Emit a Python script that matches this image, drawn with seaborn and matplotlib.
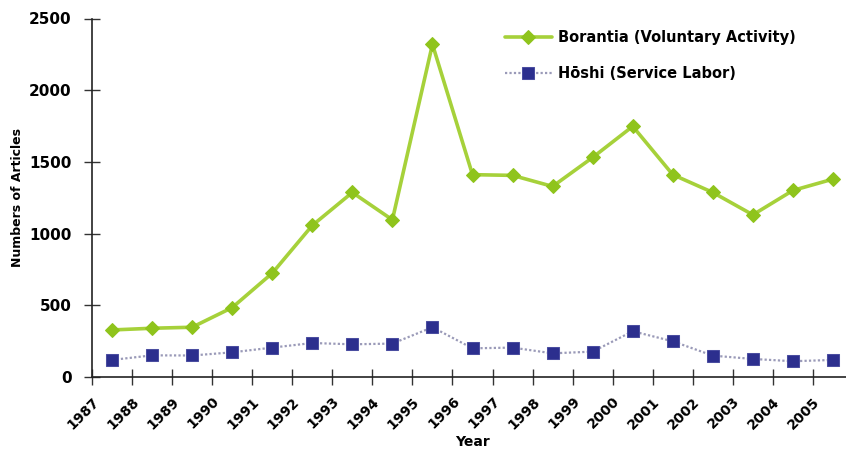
import numpy as np
import pandas as pd
import matplotlib
matplotlib.use("Agg")
import matplotlib.pyplot as plt
import matplotlib.transforms as mtransforms
import seaborn as sns

# Data
years = ["1987", "1988", "1989", "1990", "1991", "1992", "1993", "1994", "1995", "1996",
         "1997", "1998", "1999", "2000", "2001", "2002", "2003", "2004", "2005"]
borantia = [328, 340, 347, 484, 724, 1057, 1287, 1096, 2320, 1411,
            1406, 1329, 1531, 1748, 1411, 1287, 1131, 1301, 1380]
hoshi = [119, 151, 150, 172, 205, 237, 228, 233, 347, 200,
         205, 165, 177, 319, 249, 149, 126, 110, 119]

df = pd.DataFrame({"pos": np.arange(len(years)), "year": years,
                   "Borantia": borantia, "Hoshi": hoshi})

sns.set_style("white")
plt.rcParams["font.family"] = ["DejaVu Sans"]
plt.rcParams["font.weight"] = "bold"
plt.rcParams["text.color"] = "black"
plt.rcParams["axes.labelcolor"] = "black"
plt.rcParams["xtick.color"] = "black"
plt.rcParams["ytick.color"] = "black"

fig = plt.figure(figsize=(8.46, 4.5), dpi=100)
# axes runs a bit past the right edge, like the original
ax = fig.add_axes([92 / 846, 73 / 450, 761 / 846, 358.5 / 450])

sns.lineplot(data=df, x="pos", y="Borantia", ax=ax, color="#a6d13a", linewidth=2.6,
             marker="D", markersize=7, markerfacecolor="#8fc41c", markeredgecolor="#8fc41c",
             label="Borantia (Voluntary Activity)")
sns.lineplot(data=df, x="pos", y="Hoshi", ax=ax, color="#9a9ab8", linewidth=1.6,
             linestyle=(0, (1, 1)), marker="s", markersize=8,
             markerfacecolor="#2c2f8e", markeredgecolor="#4a4da0",
             label="H\u014dshi (Service Labor)")

ax.set_ylim(0, 2500)
ax.set_yticks([0, 500, 1000, 1500, 2000, 2500])
ax.set_xlim(-0.5, len(years) - 0.5)
ax.set_xticks(np.arange(len(years) + 1) - 0.5)
ax.set_xticklabels(years + [""], rotation=45, ha="right", va="top",
                   rotation_mode="anchor", fontsize=10, fontweight="bold")
for lab in ax.get_yticklabels():
    lab.set_fontsize(11)
    lab.set_fontweight("bold")

shift = mtransforms.ScaledTranslation(4.5 / 100, 0, fig.dpi_scale_trans)
for lab in ax.get_xticklabels():
    lab.set_transform(lab.get_transform() + shift)

ax.tick_params(axis="both", direction="inout", length=11, width=1,
               color="#333333", bottom=True, left=True)
ax.tick_params(axis="x", pad=7)
ax.tick_params(axis="y", pad=9)

for side in ["top", "right"]:
    ax.spines[side].set_visible(False)
for side in ["left", "bottom"]:
    ax.spines[side].set_color("#222222")
    ax.spines[side].set_linewidth(1.2)

ax.set_xlabel("Year", fontsize=10, fontweight="bold", labelpad=2)
ax.set_ylabel("Numbers of Articles", fontsize=9, fontweight="bold", labelpad=4)

ax.legend(loc="upper left", bbox_to_anchor=(505 / 846, 1 - 30 / 450),
          bbox_transform=fig.transFigure, frameon=False, fontsize=10.5,
          handlelength=3.2, handletextpad=0.4, labelspacing=1.45,
          borderpad=0, borderaxespad=0)

fig.savefig("out.png", dpi=100)
